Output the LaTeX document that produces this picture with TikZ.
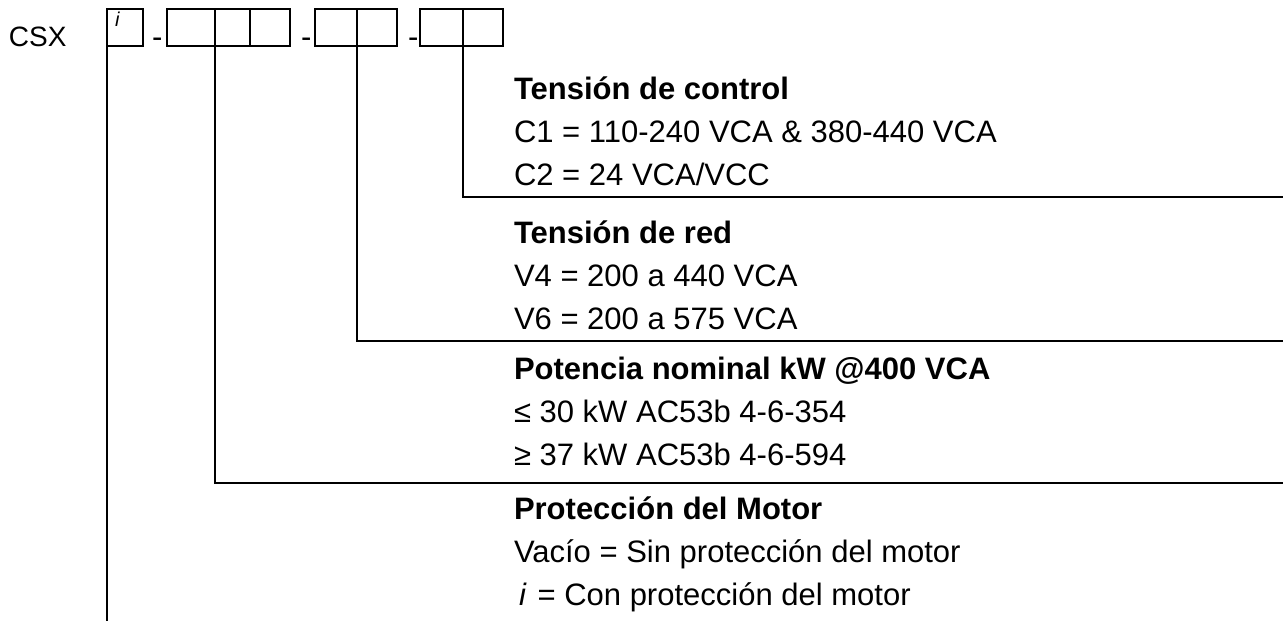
\documentclass[tikz,border=0pt]{standalone}
\usepackage{fontspec}
\setmainfont{Liberation Sans}
\usetikzlibrary{positioning}
\tikzset{
  heading/.style={anchor=base west, inner sep=0pt, font=\fontsize{15.5pt}{18pt}\selectfont\bfseries},
  entry/.style={anchor=base west, inner sep=0pt, font=\fontsize{15.5pt}{18pt}\selectfont},
  cell/.style={line width=1pt},
}

\begin{document}
\begin{tikzpicture}[x=0.5pt, y=-0.5pt, line width=1pt]
  \useasboundingbox (0,0) rectangle (1283,621);

  % Define the coordinates where the leader lines start and end
  \coordinate (P) at (107,46);
  \coordinate (N) at (215,46);
  \coordinate (R) at (357,46);
  \coordinate (C) at (463,46);
  \coordinate (Pend) at (107,621);
  \coordinate (Nend) at (1283,483);
  \coordinate (Rend) at (1283,341);
  \coordinate (Cend) at (1283,197);

  % Draw the code boxes
  \draw[cell] (107,9) rectangle (143,46);
  \draw[cell] (167,9) rectangle (290,46);
  \draw[cell] (215,9) -- (215,46) (250,9) -- (250,46);
  \draw[cell] (315,9) rectangle (397,46);
  \draw[cell] (357,9) -- (357,46);
  \draw[cell] (420,9) rectangle (503,46);
  \draw[cell] (463,9) -- (463,46);

  % Label the code
  \node[entry, font=\fontsize{14pt}{16pt}\selectfont] (csx) at (8,46) {CSX};
  \node[anchor=base west, inner sep=0pt, font=\fontsize{10pt}{12pt}\selectfont\itshape] (ibox) at (114,26) {i};
  \node[entry] (d1) at (151,47) {-};
  \node[entry] (d2) at (300,47) {-};
  \node[entry] (d3) at (407,47) {-};

  % Draw the leader lines
  \draw (C) |- (Cend);
  \draw (R) |- (Rend);
  \draw (N) |- (Nend);
  \draw (P) -- (Pend);

  % Label the fields
  \node[heading] (ctl) at (513,99) {Tensión de control};
  \node[entry] (ctl1) at (513,142) {C1 = 110-240 VCA \& 380-440 VCA};
  \node[entry] (ctl2) at (513,185) {C2 = 24 VCA/VCC};

  \node[heading] (red) at (513,243) {Tensión de red};
  \node[entry] (red1) at (513,286) {V4 = 200 a 440 VCA};
  \node[entry] (red2) at (513,329) {V6 = 200 a 575 VCA};

  \node[heading] (pot) at (513,379) {Potencia nominal kW @400 VCA};
  \node[entry] (pot1) at (513,422) {≤ 30 kW AC53b 4-6-354};
  \node[entry] (pot2) at (513,465) {≥ 37 kW AC53b 4-6-594};

  \node[heading] (mot) at (513,519) {Protección del Motor};
  \node[entry] (mot1) at (513,562) {Vacío = Sin protección del motor};
  \node[entry] (mot2) at (513,605) {\hspace{2.5pt}\textit{i}\hspace{5.5pt}= Con protección del motor};
\end{tikzpicture}
\end{document}
